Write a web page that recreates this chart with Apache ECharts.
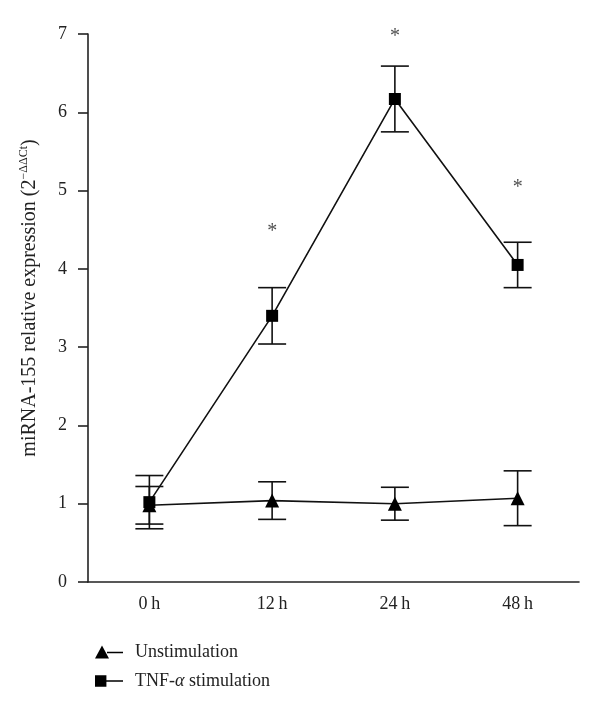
<!DOCTYPE html>
<html>
<head>
<meta charset="utf-8">
<script src="https://cdn.jsdelivr.net/npm/echarts@6/dist/echarts.min.js"></script>
<style>html,body{margin:0;padding:0;background:#fff}#c{width:600px;height:713px}</style>
</head>
<body>
<div id="c"></div>
<script>
const categories = ['0\u2009h', '12\u2009h', '24\u2009h', '48\u2009h'];
const unstimMean = [0.98, 1.04, 1.00, 1.07];
const unstimErr = [0.24, 0.24, 0.21, 0.35];
const tnfMean = [1.02, 3.40, 6.17, 4.05];
const tnfErr = [0.34, 0.36, 0.42, 0.29];
const starValues = [null, 4.47, 6.96, 5.03];
const yTicks = [0, 1, 2, 3, 4, 5, 6, 7];

const FONT = '"Liberation Serif", "DejaVu Serif", serif';

function errSeries(means, errs, z) {
  return {
    type: 'custom',
    z: z,
    silent: true,
    data: means.map((m, i) => [i, m - errs[i], m + errs[i]]),
    renderItem: function (params, api) {
      const lo = api.coord([api.value(0), api.value(1)]);
      const hi = api.coord([api.value(0), api.value(2)]);
      const hw = 14;
      const style = { stroke: '#111', lineWidth: 1.6 };
      return {
        type: 'group',
        children: [
          { type: 'line', shape: { x1: lo[0], y1: lo[1], x2: hi[0], y2: hi[1] }, style: style },
          { type: 'line', shape: { x1: lo[0] - hw, y1: lo[1], x2: lo[0] + hw, y2: lo[1] }, style: style },
          { type: 'line', shape: { x1: hi[0] - hw, y1: hi[1], x2: hi[0] + hw, y2: hi[1] }, style: style }
        ]
      };
    }
  };
}

const triIcon = 'path://M0,14L7,1L14,14ZM12,7.2L28,7.2L28,8.8L12,8.8Z';
const sqIcon = 'path://M1,2L12,2L12,13L1,13ZM11,6.7L28,6.7L28,8.3L11,8.3Z';

const chart = echarts.init(document.getElementById('c'), null, { renderer: 'canvas' });
chart.setOption({
  animation: false,
  backgroundColor: '#fff',
  textStyle: { fontFamily: FONT, color: '#222' },
  grid: { left: 88, right: 21, top: 34, bottom: 131 },
  legend: {
    orient: 'vertical',
    left: 90,
    top: 638,
    itemWidth: 28,
    itemHeight: 14,
    itemGap: 11,
    data: [
      { name: 'Unstimulation', icon: triIcon },
      { name: 'TNF-\u03b1 stimulation', icon: sqIcon }
    ],
    formatter: function (n) {
      return n === 'TNF-\u03b1 stimulation' ? 'TNF-{it|\u03b1} stimulation' : n;
    },
    textStyle: {
      fontFamily: FONT, fontSize: 18, color: '#222', padding: [0, 0, 0, 7],
      rich: { it: { fontFamily: FONT, fontSize: 18, fontStyle: 'italic', color: '#222' } }
    }
  },
  xAxis: {
    type: 'category',
    data: categories,
    boundaryGap: true,
    axisLine: { lineStyle: { color: '#222', width: 1.6 } },
    axisTick: { show: false },
    axisLabel: { fontFamily: FONT, fontSize: 18, color: '#222', margin: 13 },
    splitLine: { show: false }
  },
  yAxis: {
    type: 'value',
    min: yTicks[0],
    max: yTicks[yTicks.length - 1],
    interval: 1,
    axisLine: { show: true, lineStyle: { color: '#222', width: 1.6 } },
    axisTick: { show: true, length: 10, lineStyle: { color: '#222', width: 1.6 } },
    axisLabel: { fontFamily: FONT, fontSize: 18, color: '#222', margin: 21 },
    splitLine: { show: false },
    name: 'miRNA-155 relative expression (2{sup|\u2212\u0394\u0394Ct})',
    nameLocation: 'middle',
    nameGap: 46,
    nameTextStyle: {
      fontFamily: FONT, fontSize: 20, color: '#222', padding: [0, 0, 0, 20],
      rich: { sup: { fontFamily: FONT, fontSize: 12, color: '#222', verticalAlign: 'top', padding: [0, 0, 12, 0] } }
    }
  },
  series: [
    errSeries(unstimMean, unstimErr, 3),
    errSeries(tnfMean, tnfErr, 3),
    {
      name: 'Unstimulation',
      type: 'line',
      data: unstimMean,
      symbol: 'triangle',
      symbolSize: 14,
      itemStyle: { color: '#000' },
      lineStyle: { color: '#111', width: 1.6 },
      z: 4
    },
    {
      name: 'TNF-\u03b1 stimulation',
      type: 'line',
      data: tnfMean,
      symbol: 'rect',
      symbolSize: 12,
      itemStyle: { color: '#000' },
      lineStyle: { color: '#111', width: 1.6 },
      z: 5
    },
    {
      type: 'scatter',
      data: starValues,
      symbolSize: 0,
      silent: true,
      label: {
        show: true,
        position: 'inside',
        formatter: '*',
        fontFamily: FONT,
        fontSize: 20,
        color: '#222'
      }
    }
  ]
});
</script>
</body>
</html>
